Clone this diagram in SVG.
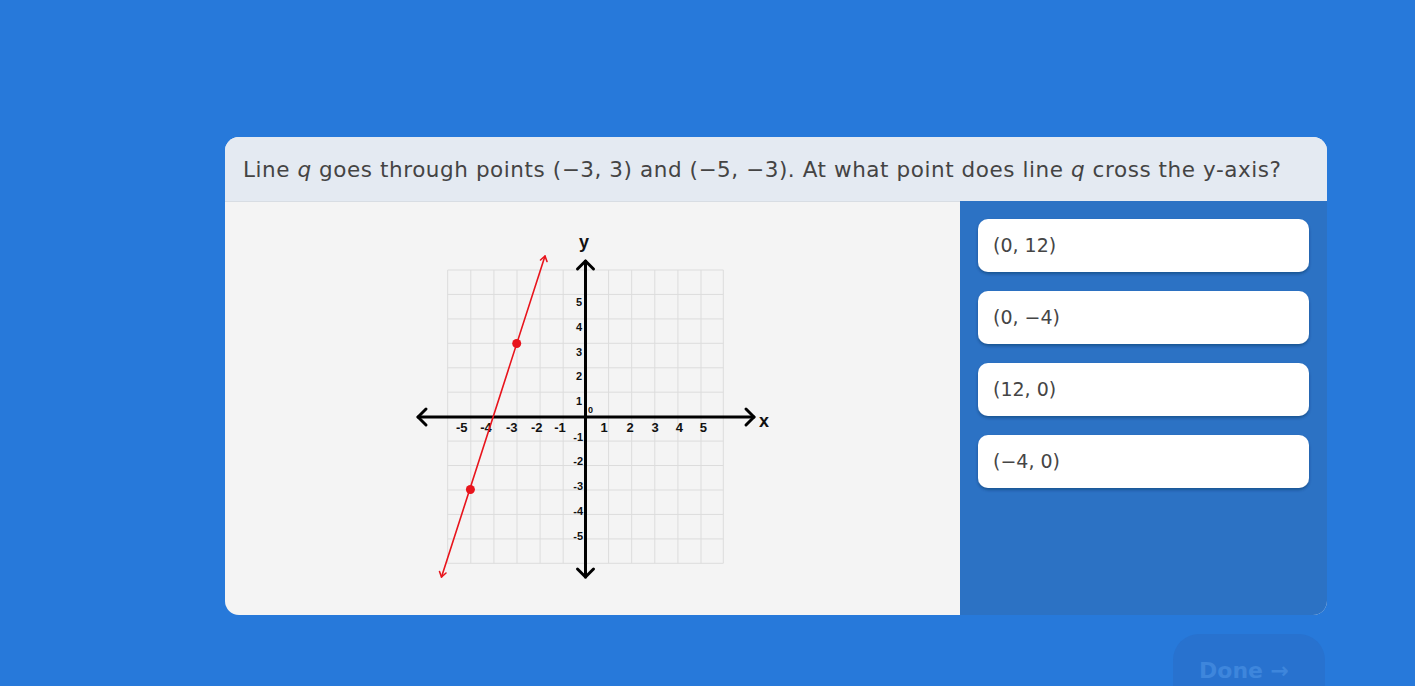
<svg xmlns="http://www.w3.org/2000/svg" width="1415" height="686" viewBox="0 0 1415 686">
<defs>
<style>
.grid{stroke:#dcdcdc;stroke-width:1;fill:none}
.axis{stroke:#000;stroke-width:3;fill:none;stroke-linecap:round;stroke-linejoin:round}
.red{stroke:#e8141c;stroke-width:1.6;fill:none;stroke-linecap:round;stroke-linejoin:round}
.tick{font-family:"Liberation Sans",Arial,sans-serif;font-weight:bold;font-size:13px;fill:#111}
.tsm{font-family:"Liberation Sans",Arial,sans-serif;font-weight:bold;font-size:11px;fill:#111}
.lbl{font-family:"Liberation Sans",Arial,sans-serif;font-weight:bold;font-size:18px;fill:#111}
.opt{fill:#fff}
.optt{font-family:"DejaVu Sans","Open Sans",sans-serif;font-size:19px;fill:#454545}
.q{font-family:"DejaVu Sans","Open Sans",sans-serif;font-size:21.5px;fill:#444}
</style>
<filter id="sh" x="-5%" y="-20%" width="110%" height="150%">
<feDropShadow dx="0" dy="2" stdDeviation="1.5" flood-color="#0a2a55" flood-opacity="0.45"/>
</filter>
<clipPath id="cardclip"><rect x="225" y="137" width="1102" height="478" rx="14"/></clipPath>
</defs>
<rect width="1415" height="686" fill="#2779da"/>

<g id="card" clip-path="url(#cardclip)">
<rect x="225" y="137" width="1102" height="478" fill="#f4f4f4"/>
<rect x="960" y="201" width="367" height="414" fill="#2c72c4"/>
<rect x="225" y="137" width="1102" height="64" fill="#e4eaf2"/>
<line x1="225" y1="201.5" x2="960" y2="201.5" stroke="#d8dde3" stroke-width="1"/>
</g>

<g id="question">
<text class="q" x="243" y="177" textLength="1038" lengthAdjust="spacing">Line <tspan font-style="italic">q</tspan> goes through points (−3, 3) and (−5, −3). At what point does line <tspan font-style="italic">q</tspan> cross the y-axis?</text>
</g>

<g id="graph">
<g class="grid">
<path d="M447.7 270V563.3M470.8 270V563.3M493.9 270V563.3M517 270V563.3M540.1 270V563.3M563.2 270V563.3M608.6 270V563.3M631.7 270V563.3M654.8 270V563.3M677.9 270V563.3M701 270V563.3M723.3 270V563.3"/>
<path d="M447.7 270H723.3M447.7 294.4H723.3M447.7 318.9H723.3M447.7 343.3H723.3M447.7 367.8H723.3M447.7 392.2H723.3M447.7 441.1H723.3M447.7 465.5H723.3M447.7 490H723.3M447.7 514.4H723.3M447.7 538.9H723.3M447.7 563.3H723.3"/>
</g>
<g class="axis">
<line x1="418" y1="417" x2="754" y2="417"/>
<line x1="585.5" y1="261" x2="585.5" y2="577"/>
<polyline points="426,409 418,417 426,425"/>
<polyline points="746,409 754,417 746,425"/>
<polyline points="577.5,269 585.5,261 593.5,269"/>
<polyline points="577.5,569 585.5,577 593.5,569"/>
</g>
<text class="lbl" x="584" y="248" text-anchor="middle">y</text>
<text class="lbl" x="764" y="427" text-anchor="middle">x</text>
<g class="tick" text-anchor="middle">
<text x="461.7" y="432">-5</text>
<text x="486" y="432">-4</text>
<text x="511.7" y="432">-3</text>
<text x="536.7" y="432">-2</text>
<text x="560" y="432">-1</text>
<text x="604" y="432">1</text>
<text x="630" y="432">2</text>
<text x="655" y="432">3</text>
<text x="679.3" y="432">4</text>
<text x="703.3" y="432">5</text>
</g>
<g class="tsm" text-anchor="end">
<text x="582" y="305.5">5</text>
<text x="582" y="331">4</text>
<text x="582" y="355.5">3</text>
<text x="582" y="380">2</text>
<text x="582" y="405">1</text>
<text x="583" y="440.5">-1</text>
<text x="583" y="464.5">-2</text>
<text x="583" y="489.5">-3</text>
<text x="583" y="514.5">-4</text>
<text x="583" y="539.5">-5</text>
</g>
<text class="tsm" x="588" y="413" style="font-size:9px">0</text>
<g id="line-q">
<line class="red" x1="545" y1="256" x2="441.5" y2="577"/>
<polyline class="red" points="540.5,260 545,256 547,261.5"/>
<polyline class="red" points="439.5,571.5 441.5,577 446,573"/>
<circle cx="516.7" cy="343.5" r="4.5" fill="#e8141c"/>
<circle cx="470.4" cy="489.5" r="4.5" fill="#e8141c"/>
</g>
</g>

<g id="opt1"><rect class="opt" x="978" y="219" width="331" height="53" rx="10" filter="url(#sh)"/><text class="optt" x="993" y="252">(0, 12)</text></g>
<g id="opt2"><rect class="opt" x="978" y="291" width="331" height="53" rx="10" filter="url(#sh)"/><text class="optt" x="993" y="324">(0, −4)</text></g>
<g id="opt3"><rect class="opt" x="978" y="363" width="331" height="53" rx="10" filter="url(#sh)"/><text class="optt" x="993" y="396">(12, 0)</text></g>
<g id="opt4"><rect class="opt" x="978" y="435" width="331" height="53" rx="10" filter="url(#sh)"/><text class="optt" x="993" y="468">(−4, 0)</text></g>

<g id="done">
<rect x="1173" y="634" width="152" height="80" rx="26" fill="#2872cf"/>
<text x="1199" y="678" font-family="'DejaVu Sans','Open Sans',sans-serif" font-weight="bold" font-size="22" fill="#3e86dc">Done →</text>
</g>
</svg>
